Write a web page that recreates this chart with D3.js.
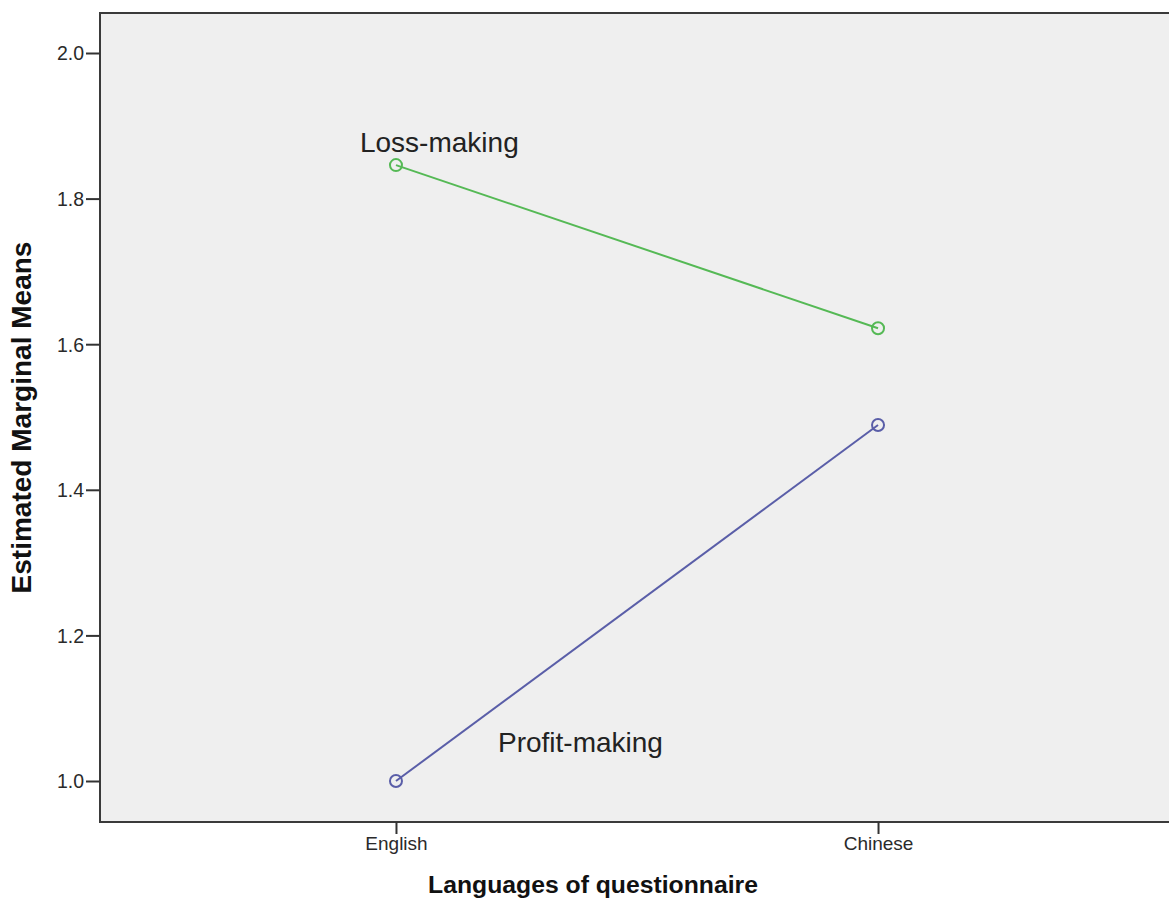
<!DOCTYPE html>
<html><head><meta charset="utf-8">
<script src="https://cdn.jsdelivr.net/npm/d3@7"></script>
<style>body{margin:0;background:#fff}svg{display:block}</style>
</head><body>
<svg id="c" width="1169" height="910"></svg>
<script>
const categories = ["English", "Chinese"];
const seriesNames = ["Loss-making", "Profit-making"];
const lossValues = [1.846, 1.622];
const profitValues = [1.0, 1.489];
const yTicks = [1.0, 1.2, 1.4, 1.6, 1.8, 2.0];
const xTitle = "Languages of questionnaire";
const yTitle = "Estimated Marginal Means";

const FONT = "Arial, 'Liberation Sans', sans-serif";
const svg = d3.select("#c");
const L = 100, T = 13, R = 1174, B = 822;
const x = d3.scalePoint().domain(categories).range([L, R]).padding(0.614);
const y = d3.scaleLinear().domain([1.0, 2.0]).range([781, 53]);

svg.append("rect").attr("x", L).attr("y", T).attr("width", R - L).attr("height", B - T)
  .attr("fill", "#efefef").attr("stroke", "#3a3a3a").attr("stroke-width", 2);

const ya = svg.append("g").attr("transform", `translate(${L},0)`)
  .call(d3.axisLeft(y).tickValues(yTicks).tickFormat(d3.format(".1f")).tickSize(14).tickPadding(2));
ya.select(".domain").remove();
ya.selectAll("line").attr("stroke", "#333").attr("stroke-width", 2);
ya.selectAll("text").attr("font-family", FONT).attr("font-size", 19.5).attr("fill", "#2a2a2a").attr("dy", "0.35em");

const xa = svg.append("g").attr("transform", `translate(0,${B})`)
  .call(d3.axisBottom(x).tickSize(12).tickPadding(3));
xa.select(".domain").remove();
xa.selectAll("line").attr("stroke", "#333").attr("stroke-width", 2);
xa.selectAll("text").attr("font-family", FONT).attr("font-size", 19).attr("fill", "#2a2a2a");

const series = [
  {name: seriesNames[0], values: lossValues, color: "#55b955"},
  {name: seriesNames[1], values: profitValues, color: "#5a5ea8"}
];
const line = d3.line().x((d, i) => x(categories[i])).y(d => y(d));
series.forEach(s => {
  svg.append("path").attr("d", line(s.values)).attr("fill", "none")
    .attr("stroke", s.color).attr("stroke-width", 2);
  svg.selectAll(null).data(s.values).enter().append("circle")
    .attr("cx", (d, i) => x(categories[i])).attr("cy", d => y(d)).attr("r", 6)
    .attr("fill", "none").attr("stroke", s.color).attr("stroke-width", 2);
});

// series labels
svg.append("text").attr("x", x(categories[0]) - 36).attr("y", y(lossValues[0]) - 13)
  .text(seriesNames[0]).attr("font-family", FONT)
  .attr("font-size", 28).attr("fill", "#222");
svg.append("text").attr("x", x(categories[0]) + 102).attr("y", y(profitValues[0]) - 29)
  .text(seriesNames[1]).attr("font-family", FONT)
  .attr("font-size", 28).attr("fill", "#222");

function fit(sel, target) {
  const w = sel.node().getComputedTextLength();
  const fs = parseFloat(sel.attr("font-size"));
  sel.attr("font-size", fs * target / w);
}
const xt = svg.append("text").attr("x", 593).attr("y", 893).attr("text-anchor", "middle")
  .text(xTitle).attr("font-family", FONT)
  .attr("font-size", 20).attr("font-weight", "bold").attr("fill", "#111");
fit(xt, 330);
const yt = svg.append("text").attr("transform", `translate(31,${(T + B) / 2}) rotate(-90)`).attr("text-anchor", "middle")
  .text(yTitle).attr("font-family", FONT)
  .attr("font-size", 20).attr("font-weight", "bold").attr("fill", "#111");
fit(yt, 352);
</script>
</body></html>
